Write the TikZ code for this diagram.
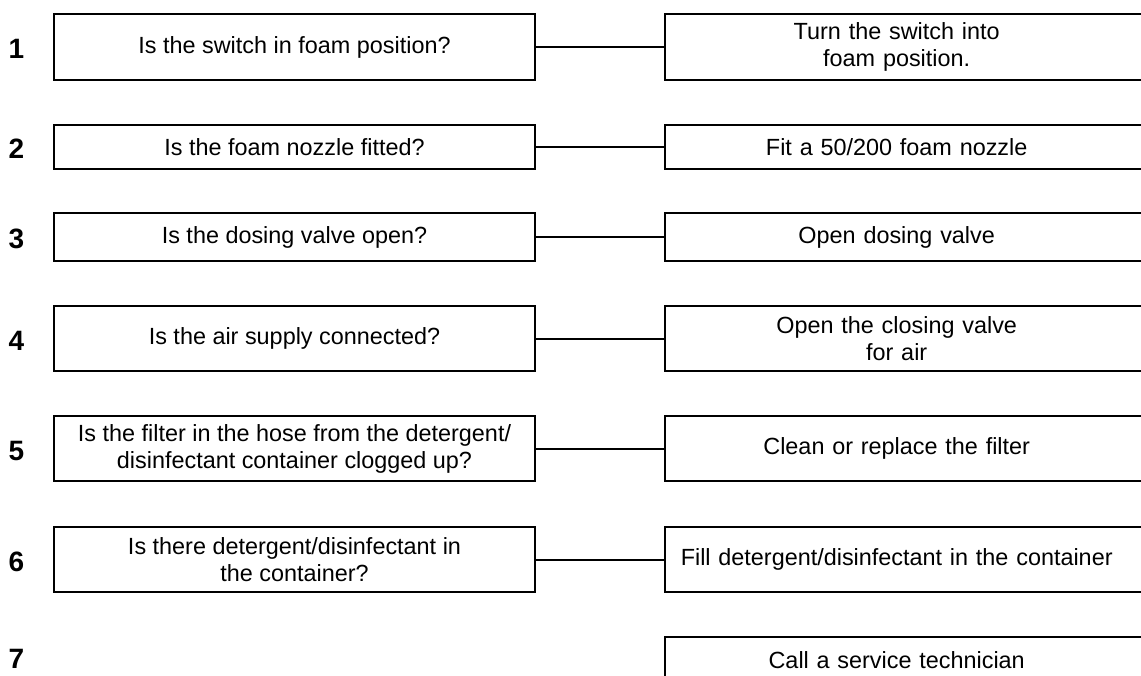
\documentclass[tikz,border=0pt]{standalone}
\usepackage{fontspec}
\setmainfont{Liberation Sans}
\usepackage{tikz}
\usetikzlibrary{positioning}
\tikzstyle{question} = [rectangle, draw=black, line width=2pt, minimum width=481pt, align=center, font=\fontsize{23.4pt}{27pt}\selectfont]
\tikzstyle{answer} = [rectangle, anchor=west, text width=463pt, inner xsep=0pt, inner ysep=0pt, align=center, font=\fontsize{23.4pt}{27pt}\selectfont]
\tikzstyle{frame} = [line width=2pt, line join=miter]
\tikzstyle{link} = [line width=2pt]
\tikzstyle{num} = [font=\fontsize{28pt}{30pt}\selectfont\bfseries]

\begin{document}
\begin{tikzpicture}[x=1pt,y=-1pt]
                        \useasboundingbox (0,0) rectangle (1141,675);
                        \node [num] (n1) at (16.5, 49) {1};
                        \node [num] (n2) at (16.5, 149) {2};
                        \node [num] (n3) at (16.5, 239) {3};
                        \node [num] (n4) at (16.5, 341) {4};
                        \node [num] (n5) at (16.5, 451) {5};
                        \node [num] (n6) at (16.5, 562) {6};
                        \node [num] (n7) at (16.5, 659) {7};
                        \node [question, minimum height=66pt] (q1) at (294.5, 47) {Is the switch in foam position?};
                        \node [question, minimum height=44pt] (q2) at (294.5, 147) {Is the foam nozzle fitted?};
                        \node [question, minimum height=48pt] (q3) at (294.5, 237) {Is the dosing valve open?};
                        \node [question, minimum height=65pt] (q4) at (294.5, 338.5) {Is the air supply connected?};
                        \node [question, minimum height=65pt] (q5) at (294.5, 448.5) {Is the filter in the hose from the detergent/\\disinfectant container clogged up?};
                        \node [question, minimum height=65pt] (q6) at (294.5, 559.5) {Is there detergent/disinfectant in\\the container?};
                        \node [answer, minimum height=66pt] (a1) at (665, 47) {Turn the switch into\\foam position.};
                        \node [answer, minimum height=44pt] (a2) at (665, 147) {Fit a 50/200 foam nozzle};
                        \node [answer, minimum height=48pt] (a3) at (665, 237) {Open dosing valve};
                        \node [answer, minimum height=65pt] (a4) at (665, 338.5) {Open the closing valve\\for air};
                        \node [answer, minimum height=65pt] (a5) at (665, 448.5) {Clean or replace the filter};
                        \node [answer, minimum height=65pt] (a6) at (665, 559.5) {Fill detergent/disinfectant in the container};
                        \node [answer, minimum height=46pt] (a7) at (665, 660) {Call a service technician};
                        % open frames, cut off at the right edge
                        \foreach \n in {1,...,7}
                            \draw [frame] ([xshift=14pt]a\n.north east) -- (a\n.north west) -- (a\n.south west) -- ([xshift=14pt]a\n.south east);
                        \foreach \n in {1,...,6}
                            \draw [link] (q\n) -- (a\n);
                    \end{tikzpicture}
\end{document}
